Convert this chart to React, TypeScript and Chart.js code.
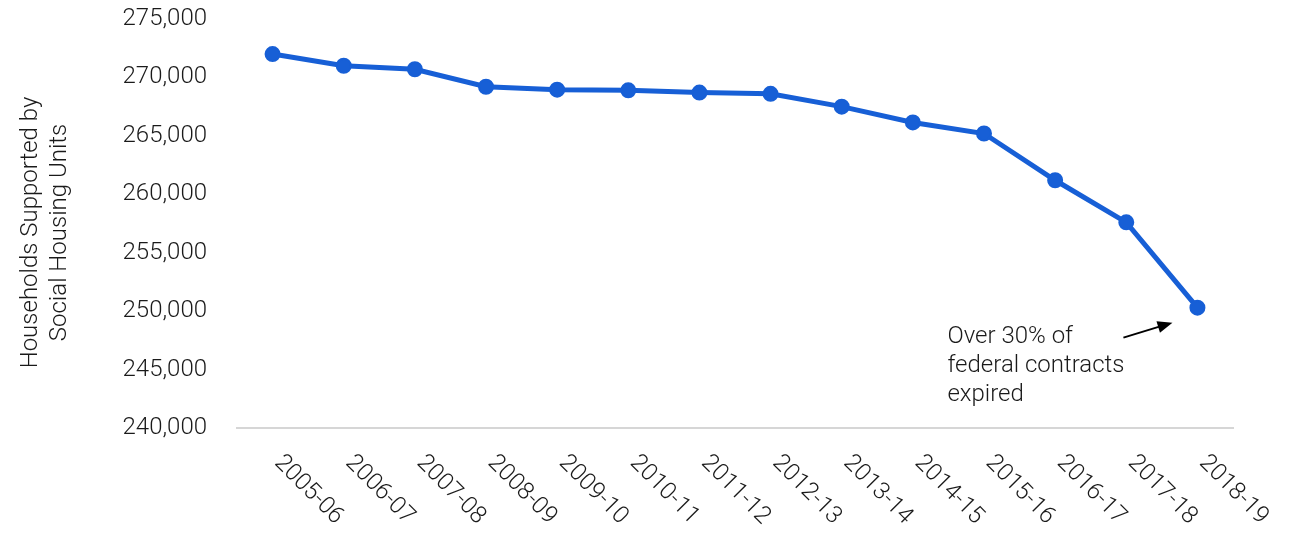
import React, { useEffect, useRef } from 'react';
import { Chart, registerables } from 'chart.js';

Chart.register(...registerables);

const categories = [
  '2005-06', '2006-07', '2007-08', '2008-09', '2009-10', '2010-11', '2011-12',
  '2012-13', '2013-14', '2014-15', '2015-16', '2016-17', '2017-18', '2018-19',
];
const households = [
  272000, 271000, 270700, 269200, 268950, 268900, 268700,
  268600, 267500, 266150, 265200, 261200, 257600, 250300,
];
const yMin = 240000;
const yMax = 275000;
const yStep = 5000;
const yAxisTitle = ['Households Supported by', 'Social Housing Units'];
const annotationLines = ['Over 30% of', 'federal contracts', 'expired'];

const FONT_FAMILY = 'Roboto, "Liberation Sans", Arial, sans-serif';
const TEXT_COLOR = '#1a1a1a';
const LINE_COLOR = '#175fd6';

const extrasPlugin = {
  id: 'extras',
  afterDraw(chart: any) {
    const ctx = chart.ctx;
    const xScale = chart.scales.x;
    const area = chart.chartArea;
    ctx.save();
    ctx.fillStyle = TEXT_COLOR;
    ctx.font = `300 24px ${FONT_FAMILY}`;

    // rotated x labels
    categories.forEach((label, i) => {
      const x = xScale.getPixelForTick(i);
      ctx.save();
      ctx.translate(x + 36, area.bottom + 62);
      ctx.rotate(Math.PI / 4);
      ctx.textAlign = 'center';
      ctx.textBaseline = 'middle';
      ctx.fillText(label, 0, 0);
      ctx.restore();
    });

    // y axis title
    const midY = (area.top + area.bottom) / 2 + 9;
    [31, 60].forEach((cx, i) => {
      ctx.save();
      ctx.translate(cx, midY);
      ctx.rotate(-Math.PI / 2);
      ctx.textAlign = 'center';
      ctx.textBaseline = 'middle';
      ctx.fillText(yAxisTitle[i], 0, 0);
      ctx.restore();
    });

    // annotation anchored to the last point
    const meta = chart.getDatasetMeta(0);
    const last = meta.data[meta.data.length - 1];
    const px = last.x;
    const py = last.y;
    ctx.textAlign = 'left';
    ctx.textBaseline = 'alphabetic';
    annotationLines.forEach((line, i) => {
      ctx.fillText(line, px - 250, py + 35 + i * 29);
    });

    // arrow
    const tx = px - 25, ty = py + 15;
    const sx = px - 74, sy = py + 30;
    const ang = Math.atan2(ty - sy, tx - sx);
    const headLen = 16;
    ctx.strokeStyle = '#000';
    ctx.fillStyle = '#000';
    ctx.lineWidth = 2;
    ctx.beginPath();
    ctx.moveTo(sx, sy);
    ctx.lineTo(tx - Math.cos(ang) * headLen * 0.8, ty - Math.sin(ang) * headLen * 0.8);
    ctx.stroke();
    ctx.beginPath();
    ctx.moveTo(tx, ty);
    ctx.lineTo(tx - headLen * Math.cos(ang - 0.38), ty - headLen * Math.sin(ang - 0.38));
    ctx.lineTo(tx - headLen * Math.cos(ang + 0.38), ty - headLen * Math.sin(ang + 0.38));
    ctx.closePath();
    ctx.fill();
    ctx.restore();
  },
};

export default function App() {
  const canvasRef = useRef<HTMLCanvasElement | null>(null);

  useEffect(() => {
    if (!canvasRef.current) return;
    const chart = new Chart(canvasRef.current, {
      type: 'line',
      data: {
        labels: categories,
        datasets: [
          {
            data: households,
            borderColor: LINE_COLOR,
            backgroundColor: LINE_COLOR,
            borderWidth: 5,
            pointRadius: 7,
            pointBorderWidth: 2,
            pointBackgroundColor: LINE_COLOR,
            pointBorderColor: LINE_COLOR,
            tension: 0,
            fill: false,
          },
        ],
      },
      options: {
        animation: false,
        responsive: true,
        maintainAspectRatio: false,
        layout: { padding: { top: 19, right: 67, bottom: 0, left: 0 } },
        plugins: {
          legend: { display: false },
          tooltip: { enabled: false },
        },
        scales: {
          x: {
            offset: true,
            grid: { display: false, drawTicks: false },
            border: { display: true, color: '#d6d6d6', width: 2 },
            ticks: { display: false },
            afterFit: (scale: any) => {
              scale.height = 111;
              scale.paddingLeft = 0;
              scale.paddingRight = 0;
            },
          },
          y: {
            min: yMin,
            max: yMax,
            grid: { display: false, drawTicks: false },
            border: { display: false },
            ticks: {
              stepSize: yStep,
              padding: 30,
              color: TEXT_COLOR,
              font: { family: FONT_FAMILY, size: 24, weight: '300' as any },
              callback: (v: any) => Number(v).toLocaleString('en-US'),
            },
            afterFit: (scale: any) => {
              scale.width = 237;
              scale.paddingTop = 0;
              scale.paddingBottom = 0;
            },
          },
        },
      },
      plugins: [extrasPlugin],
    });
    return () => chart.destroy();
  }, []);

  return (
    <div style={{ position: 'fixed', left: 0, top: 0, width: 1300, height: 539, background: '#fff' }}>
      <canvas ref={canvasRef} />
    </div>
  );
}
